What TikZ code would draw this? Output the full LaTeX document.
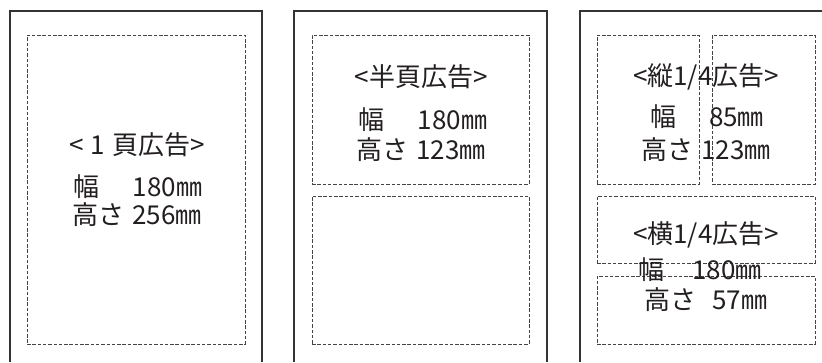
\documentclass[tikz,border=0pt]{standalone}
\usepackage{fontspec}
\setmainfont{Noto Sans CJK JP}
\definecolor{outerc}{HTML}{333333}
\definecolor{dashc}{HTML}{444444}
\definecolor{txtc}{HTML}{231F20}
\begin{document}
\begin{tikzpicture}[x=1pt,y=-1pt,
  outer/.style={draw=outerc,line width=1.2pt},
  adbox/.style={draw=dashc,line width=1pt,dash pattern=on 3.5pt off 1.8pt,inner sep=0pt},
  lbl/.style={text=txtc,font=\fontsize{26}{29}\selectfont,inner sep=0pt}]
\useasboundingbox[fill=white] (0,0) rectangle (822,362);
% outer pages
\draw[outer] (10,362) -- (10,11) -- (262,11) -- (262,362);
\draw[outer] (294,362) -- (294,11) -- (547,11) -- (547,362);
\draw[outer] (580,362) -- (580,11) -- (822,11);
% dashed ad areas
\node[adbox,minimum width=218pt,minimum height=309pt] (full) at (136,189.5) {};
\node[adbox,minimum width=217pt,minimum height=149pt] (halfA) at (420.5,109.5) {};
\node[adbox,minimum width=217pt,minimum height=148pt] (halfB) at (420.5,270) {};
\node[adbox,minimum width=102pt,minimum height=149pt] (vL) at (648,109.5) {};
\node[adbox,minimum width=103pt,minimum height=149pt] (vR) at (763.5,109.5) {};
\node[adbox,minimum width=218pt,minimum height=67pt] (hA) at (706,229.5) {};
\node[adbox,minimum width=218pt,minimum height=68pt] (hB) at (706,310) {};
% texts
\node[lbl] (t1) at (137,145) {<\hspace{7pt}1\hspace{7pt}頁広告>};
\node[lbl] (t1a) at (138,187) {幅\hspace{33pt}180㎜};
\node[lbl] (t1b) at (137,215) {高さ\hspace{8pt}256㎜};
\node[lbl] (t2) at (421,77) {<半頁広告>};
\node[lbl] (t2a) at (423,120) {幅\hspace{33pt}180㎜};
\node[lbl] (t2b) at (421,150) {高さ\hspace{8pt}123㎜};
\node[lbl] (t3) at (706,77) {<縦1/4広告>};
\node[lbl] (t3a) at (707,117) {幅\hspace{33pt}85㎜};
\node[lbl] (t3b) at (706,150) {高さ\hspace{8pt}123㎜};
\node[lbl] (t4) at (706,235) {<横1/4広告>};
\node[lbl] (t4a) at (700,270) {幅\hspace{28pt}180㎜};
\node[lbl] (t4b) at (706,300) {高さ\hspace{16pt}57㎜};
\end{tikzpicture}
\end{document}
